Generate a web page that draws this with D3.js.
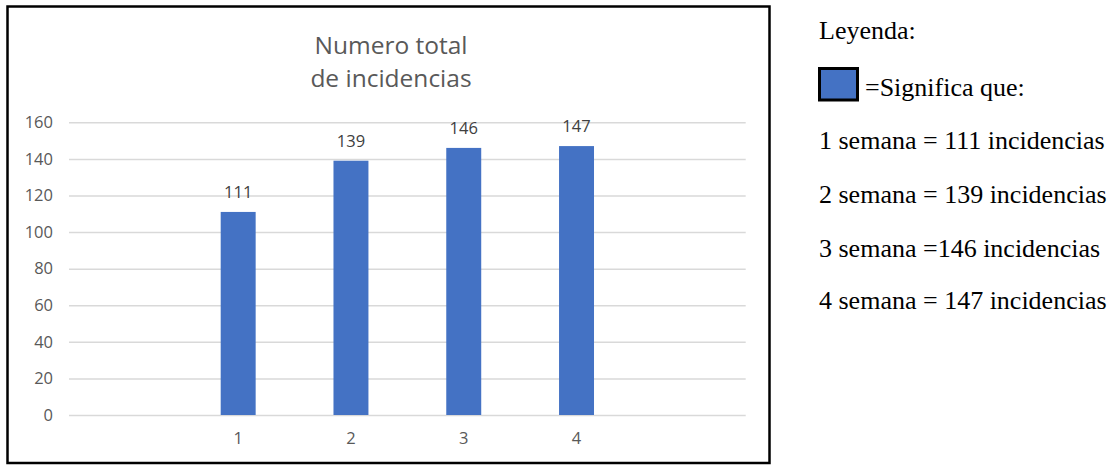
<!DOCTYPE html>
<html>
<head>
<meta charset="utf-8">
<script src="https://cdn.jsdelivr.net/npm/d3@7/dist/d3.min.js"></script>
<style>
  html, body { margin: 0; padding: 0; background: #fff; }
  svg { display: block; }
</style>
</head>
<body>
<svg id="chart" width="1118" height="466"></svg>
<script>
// ---- data ----
const categories = ["1", "2", "3", "4"];
const values = [111, 139, 146, 147];
const yTicks = [0, 20, 40, 60, 80, 100, 120, 140, 160];
const titleLines = ["Numero total", "de incidencias"];
const legendTitle = "Leyenda:";
const legendKey = "=Significa que:";
const legendLines = [
  "1 semana = 111 incidencias",
  "2 semana = 139 incidencias",
  "3 semana =146 incidencias",
  "4 semana = 147 incidencias"
];

// ---- layout ----
const svg = d3.select("#chart");
const plot = { left: 69, right: 745.7, top: 122.3, bottom: 415 };
const barColor = "#4472C4";
const sans = "'Open Sans', sans-serif";

// chart frame
svg.append("rect")
  .attr("x", 7.5).attr("y", 6.5).attr("width", 762).attr("height", 456.5)
  .attr("fill", "#fff").attr("stroke", "#000").attr("stroke-width", 2.5);

const x = d3.scaleBand()
  .domain(categories)
  .range([plot.left, plot.right])
  .paddingInner(0.69)
  .paddingOuter(1.345);

const y = d3.scaleLinear()
  .domain([0, 160])
  .range([plot.bottom, plot.top]);

// y axis with gridlines
const yAxis = d3.axisLeft(y)
  .tickValues(yTicks)
  .tickSize(-(plot.right - plot.left))
  .tickPadding(16);

const gy = svg.append("g")
  .attr("transform", `translate(${plot.left},0)`)
  .call(yAxis);
gy.select(".domain").remove();
gy.selectAll(".tick line").attr("stroke", "#d9d9d9").attr("stroke-width", 1.5);
gy.selectAll(".tick text")
  .attr("fill", "#595959")
  .style("font-family", sans)
  .style("font-size", "16.5px");

// x axis labels
const xAxis = d3.axisBottom(x).tickSize(0).tickPadding(17);
const gx = svg.append("g")
  .attr("transform", `translate(0,${plot.bottom})`)
  .call(xAxis);
gx.select(".domain").remove();
gx.selectAll(".tick text")
  .attr("fill", "#595959")
  .style("font-family", sans)
  .style("font-size", "16.5px");

// bars
const data = categories.map((c, i) => ({ c, v: values[i] }));
svg.append("g").selectAll("rect")
  .data(data)
  .join("rect")
  .attr("x", d => x(d.c))
  .attr("y", d => y(d.v))
  .attr("width", x.bandwidth())
  .attr("height", d => y(0) - y(d.v))
  .attr("fill", barColor);

// value labels
svg.append("g").selectAll("text")
  .data(data)
  .join("text")
  .attr("x", d => x(d.c) + x.bandwidth() / 2)
  .attr("y", d => y(d.v) - 14)
  .attr("text-anchor", "middle")
  .attr("fill", "#404040")
  .style("font-family", sans)
  .style("font-size", "16.5px")
  .text(d => d.v);

// title
svg.append("g").selectAll("text")
  .data(titleLines)
  .join("text")
  .attr("x", 391)
  .attr("y", (d, i) => 54 + i * 33)
  .attr("text-anchor", "middle")
  .attr("fill", "#595959")
  .style("font-family", sans)
  .style("font-size", "24.5px")
  .text(d => d);

// legend (outside chart)
const serif = "'Liberation Serif', 'Times New Roman', serif";
svg.append("text")
  .attr("x", 819).attr("y", 39)
  .attr("fill", "#000")
  .style("font-family", serif).style("font-size", "26px")
  .text(legendTitle);

svg.append("rect")
  .attr("x", 819.5).attr("y", 68.5).attr("width", 38).attr("height", 31.5)
  .attr("fill", barColor).attr("stroke", "#000").attr("stroke-width", 3);

svg.append("text")
  .attr("x", 865).attr("y", 96)
  .attr("fill", "#000")
  .style("font-family", serif).style("font-size", "26px")
  .text(legendKey);

const legendBaselines = [149, 203, 257, 309];
svg.append("g").selectAll("text")
  .data(legendLines)
  .join("text")
  .attr("x", 819)
  .attr("y", (d, i) => legendBaselines[i])
  .attr("fill", "#000")
  .style("font-family", serif).style("font-size", "26px")
  .style("white-space", "pre")
  .text(d => d);
</script>
</body>
</html>
